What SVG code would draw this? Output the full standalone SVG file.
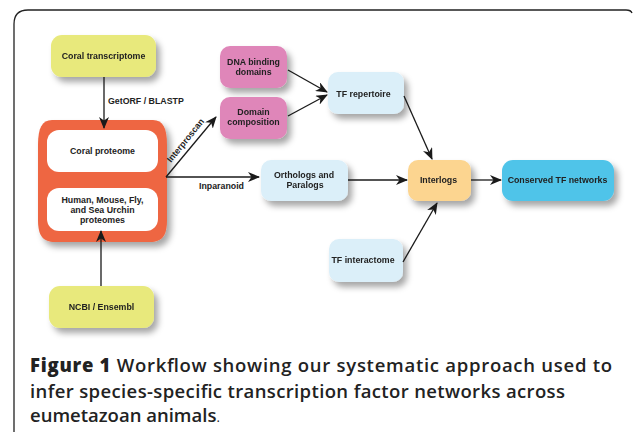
<svg xmlns="http://www.w3.org/2000/svg" width="633" height="436" viewBox="0 0 633 436">
  <defs>
    <filter id="shadow" x="-30%" y="-30%" width="170%" height="180%">
      <feDropShadow dx="4" dy="5" stdDeviation="3" flood-color="#000" flood-opacity="0.35"/>
    </filter>
    <marker id="arrow" viewBox="0 0 12 10" refX="11" refY="5" markerWidth="12" markerHeight="10" markerUnits="userSpaceOnUse" orient="auto">
      <path d="M0,0 L12,5 L0,10 L3.5,5 Z" fill="#1a1a1a"/>
    </marker>
  </defs>
  <style>
    .lbl { font-family: "Liberation Sans", Arial, sans-serif; font-weight: bold; font-size: 8.8px; fill: #222; }
    .mid { text-anchor: middle; }
    .edge { fill: none; stroke: #1a1a1a; stroke-width: 1.3; marker-end: url(#arrow); }
    .cap { font-family: "Open Sans", "Noto Sans", sans-serif; font-size: 18.5px; font-weight: 600; fill: #222; }
    .yellow { fill: #e8e97c; }
    .pink { fill: #df86b9; }
    .pale { fill: #dbeff9; }
  </style>

  <rect width="633" height="436" fill="#fff"/>

  <!-- frame: top and left border with rounded corner -->
  <path d="M14,432 L14,24 Q14,10 28,10 L626,10 Q631,10 632,13" fill="none" stroke="#222" stroke-width="1.3"/>

  <g id="coral-transcriptome" filter="url(#shadow)">
    <rect class="yellow" x="51" y="35" width="105" height="42" rx="11"/>
    <text class="lbl mid" x="103.5" y="59">Coral transcriptome</text>
  </g>

  <g id="proteomes">
    <path d="M52,120 L153,120 C163,120 167,128 167,145 L167,220 C167,236 162,242 150,242 L55,242 C43,242 38,236 38,220 L38,145 C38,128 42,120 52,120 Z" fill="#ee6642" filter="url(#shadow)"/>
    <g id="coral-proteome">
      <rect x="47" y="130" width="111" height="42" rx="12" fill="#fff"/>
      <text class="lbl mid" x="102.5" y="154">Coral proteome</text>
    </g>
    <g id="other-proteomes">
      <rect x="47" y="188" width="111" height="43" rx="12" fill="#fff"/>
      <text class="lbl mid" x="102.5" y="203">Human, Mouse, Fly,</text>
      <text class="lbl mid" x="102.5" y="213">and Sea Urchin</text>
      <text class="lbl mid" x="102.5" y="223">proteomes</text>
    </g>
  </g>

  <g id="ncbi-ensembl" filter="url(#shadow)">
    <rect class="yellow" x="49" y="286" width="105" height="42" rx="11"/>
    <text class="lbl mid" x="101.5" y="310">NCBI / Ensembl</text>
  </g>

  <g id="dna-binding" filter="url(#shadow)">
    <rect class="pink" x="220" y="46" width="67" height="42" rx="10"/>
    <text class="lbl mid" x="253.5" y="65">DNA binding</text>
    <text class="lbl mid" x="253.5" y="75">domains</text>
  </g>

  <g id="domain-composition" filter="url(#shadow)">
    <rect class="pink" x="220" y="97" width="67" height="42" rx="10"/>
    <text class="lbl mid" x="253.5" y="115">Domain</text>
    <text class="lbl mid" x="253.5" y="125">composition</text>
  </g>

  <g id="tf-repertoire" filter="url(#shadow)">
    <rect class="pale" x="328" y="72" width="76" height="42" rx="10"/>
    <text class="lbl mid" x="363.5" y="97">TF repertoire</text>
  </g>

  <g id="orthologs" filter="url(#shadow)">
    <rect class="pale" x="261" y="160" width="87" height="41" rx="10"/>
    <text class="lbl mid" x="304" y="178">Orthologs and</text>
    <text class="lbl mid" x="305" y="188">Paralogs</text>
  </g>

  <g id="interlogs" filter="url(#shadow)">
    <rect x="408" y="160" width="63" height="41" rx="10" fill="#fcd590"/>
    <text class="lbl mid" x="438.5" y="183">Interlogs</text>
  </g>

  <g id="conserved-networks" filter="url(#shadow)">
    <rect x="502" y="160" width="112" height="41" rx="11" fill="#4fc4e9"/>
    <text class="lbl mid" x="557.5" y="183">Conserved TF networks</text>
  </g>

  <g id="tf-interactome" filter="url(#shadow)">
    <rect class="pale" x="329" y="239" width="74" height="43" rx="10"/>
    <text class="lbl mid" x="363" y="263">TF interactome</text>
  </g>

  <!-- connectors, drawn above the nodes so arrowheads over the proteome frame stay visible -->
  <g id="connectors">
    <line class="edge" x1="104" y1="77" x2="104" y2="128"/>
    <line class="edge" x1="101" y1="286" x2="101" y2="231"/>
    <line class="edge" x1="166" y1="177" x2="216" y2="117"/>
    <line class="edge" x1="166" y1="177" x2="259" y2="177"/>
    <line class="edge" x1="288" y1="70" x2="327" y2="92"/>
    <line class="edge" x1="288" y1="116" x2="327" y2="95"/>
    <line class="edge" x1="348" y1="180" x2="407" y2="180"/>
    <line class="edge" x1="404" y1="96" x2="432" y2="159"/>
    <line class="edge" x1="471" y1="180" x2="501" y2="180"/>
    <line class="edge" x1="403" y1="262" x2="437" y2="203"/>
    <text class="lbl" x="108" y="104">GetORF / BLASTP</text>
    <text class="lbl" x="199" y="189">Inparanoid</text>
    <text class="lbl" transform="translate(171,163) rotate(-51)">Interproscan</text>
  </g>

  <!-- caption -->
  <g id="caption">
    <text class="cap" x="30" y="372" textLength="582"><tspan font-weight="800">Figure 1</tspan> Workflow showing our systematic approach used to</text>
    <text class="cap" x="30" y="398" textLength="535">infer species-specific transcription factor networks across</text>
    <text class="cap" x="30" y="422">eumetazoan animals<tspan font-size="13px" font-weight="400">.</tspan></text>
  </g>
</svg>
